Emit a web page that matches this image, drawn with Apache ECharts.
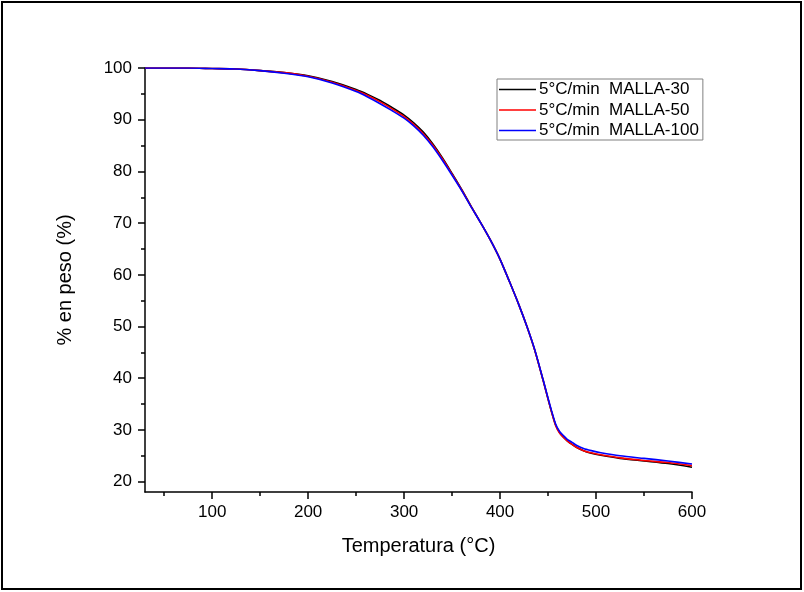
<!DOCTYPE html>
<html>
<head>
<meta charset="utf-8">
<script src="https://cdn.jsdelivr.net/npm/echarts@6/dist/echarts.min.js"></script>
<style>html,body{margin:0;padding:0;background:#fff;}#c{width:804px;height:592px;}</style>
</head>
<body>
<div id="c"></div>
<script>
const temperature = [30, 50, 75, 100, 125, 150, 175, 200, 225, 250, 262, 275, 287, 300, 310, 320, 330, 340, 350, 360, 370, 380, 390, 400, 410, 420, 428, 436, 445, 452, 458, 462, 466, 470, 475, 480, 487, 495, 505, 525, 550, 575, 600];
const malla30 =  [100, 100, 100, 99.9, 99.8, 99.5, 99.1, 98.5, 97.4, 95.85, 94.9, 93.7, 92.4, 90.9, 89.4, 87.6, 85.3, 82.6, 79.6, 76.5, 73.2, 70.0, 66.7, 63.0, 58.6, 54.0, 50.0, 45.5, 39.5, 34.6, 30.9, 29.5, 28.6, 27.9, 27.2, 26.6, 26.0, 25.5, 25.1, 24.5, 24.0, 23.5, 22.8];
const malla50 =  [100, 100, 100, 99.9, 99.8, 99.5, 99.1, 98.4, 97.25, 95.65, 94.7, 93.45, 92.15, 90.6, 89.1, 87.3, 85.05, 82.4, 79.45, 76.4, 73.15, 70.0, 66.7, 63.0, 58.6, 54.0, 50.0, 45.5, 39.5, 34.6, 30.8, 29.4, 28.6, 27.9, 27.2, 26.6, 26.0, 25.6, 25.2, 24.6, 24.1, 23.7, 23.1];
const malla100 = [100, 100, 100, 99.9, 99.8, 99.5, 99.0, 98.3, 97.1, 95.45, 94.4, 93.1, 91.8, 90.3, 88.8, 87.0, 84.75, 82.1, 79.25, 76.3, 73.1, 70.0, 66.7, 63.0, 58.6, 54.0, 50.0, 45.6, 39.6, 34.8, 31.1, 29.7, 28.9, 28.2, 27.6, 27.0, 26.4, 26.0, 25.6, 25.0, 24.5, 24.0, 23.4];
const seriesNames = ['5°C/min  MALLA-30', '5°C/min  MALLA-50', '5°C/min  MALLA-100'];
const xMajorTicks = [100, 200, 300, 400, 500, 600];
const xMinorTicks = [50, 150, 250, 350, 450, 550];
const yMajorTicks = [20, 30, 40, 50, 60, 70, 80, 90, 100];
const yMinorTicks = [25, 35, 45, 55, 65, 75, 85, 95];

const FONT = 'Liberation Sans';
const chart = echarts.init(document.getElementById('c'), null, {renderer: 'canvas'});
const pair = arr => temperature.map((t, i) => [t, arr[i]]);
const mkLine = (name, data, color) => ({
  name, type: 'line', data: pair(data), xAxisIndex: 0, yAxisIndex: 0,
  showSymbol: false, symbol: 'none', smooth: 0.25,
  lineStyle: {color, width: 1.6, join: 'round'}, itemStyle: {color}, animation: false
});
chart.setOption({
  backgroundColor: '#ffffff',
  animation: false,
  textStyle: {fontFamily: FONT},
  grid: {left: 145, top: 68, right: 112, bottom: 100, containLabel: false},
  legend: {
    orient: 'vertical', left: 497, top: 79,
    data: seriesNames,
    icon: 'rect', itemWidth: 37, itemHeight: 1.6, itemGap: 3.5,
    padding: [2, 4, 1, 2],
    borderColor: '#808080', borderWidth: 1,
    textStyle: {fontFamily: FONT, fontSize: 17, color: '#000', lineHeight: 16, padding: [0, 0, 0, -2]}
  },
  xAxis: [{
    type: 'value', min: 30, max: 600,
    name: 'Temperatura (°C)', nameLocation: 'middle', nameGap: 44,
    nameTextStyle: {fontFamily: FONT, fontSize: 20, color: '#000'},
    axisLine: {show: true, onZero: false, lineStyle: {color: '#000', width: 1.5}},
    axisTick: {show: true, customValues: xMajorTicks, length: 7, lineStyle: {color: '#000', width: 1.5}},
    axisLabel: {customValues: xMajorTicks, fontFamily: FONT, fontSize: 17, color: '#000', margin: 12},
    splitLine: {show: false}
  }, {
    type: 'value', min: 30, max: 600, position: 'bottom',
    axisLine: {show: false, onZero: false},
    axisTick: {show: true, customValues: xMinorTicks, length: 4, lineStyle: {color: '#000', width: 1.5}},
    axisLabel: {show: false},
    splitLine: {show: false}
  }],
  yAxis: [{
    type: 'value', min: 18, max: 100,
    name: '% en peso (%)', nameLocation: 'middle', nameGap: 70,
    nameTextStyle: {fontFamily: FONT, fontSize: 20, color: '#000'},
    axisLine: {show: true, onZero: false, lineStyle: {color: '#000', width: 1.5}},
    axisTick: {show: true, customValues: yMajorTicks, length: 7, lineStyle: {color: '#000', width: 1.5}},
    axisLabel: {customValues: yMajorTicks, fontFamily: FONT, fontSize: 17, color: '#000', margin: 13},
    splitLine: {show: false}
  }, {
    type: 'value', min: 18, max: 100, position: 'left',
    axisLine: {show: false, onZero: false},
    axisTick: {show: true, customValues: yMinorTicks, length: 4, lineStyle: {color: '#000', width: 1.5}},
    axisLabel: {show: false},
    splitLine: {show: false}
  }],
  graphic: [{
    type: 'rect', shape: {x: 2, y: 2, width: 799, height: 587},
    style: {fill: null, stroke: '#000', lineWidth: 2}, silent: true, z: 100
  }],
  series: [
    mkLine(seriesNames[0], malla30, '#000000'),
    mkLine(seriesNames[1], malla50, '#ff0000'),
    mkLine(seriesNames[2], malla100, '#0000ff')
  ]
});
</script>
</body>
</html>
